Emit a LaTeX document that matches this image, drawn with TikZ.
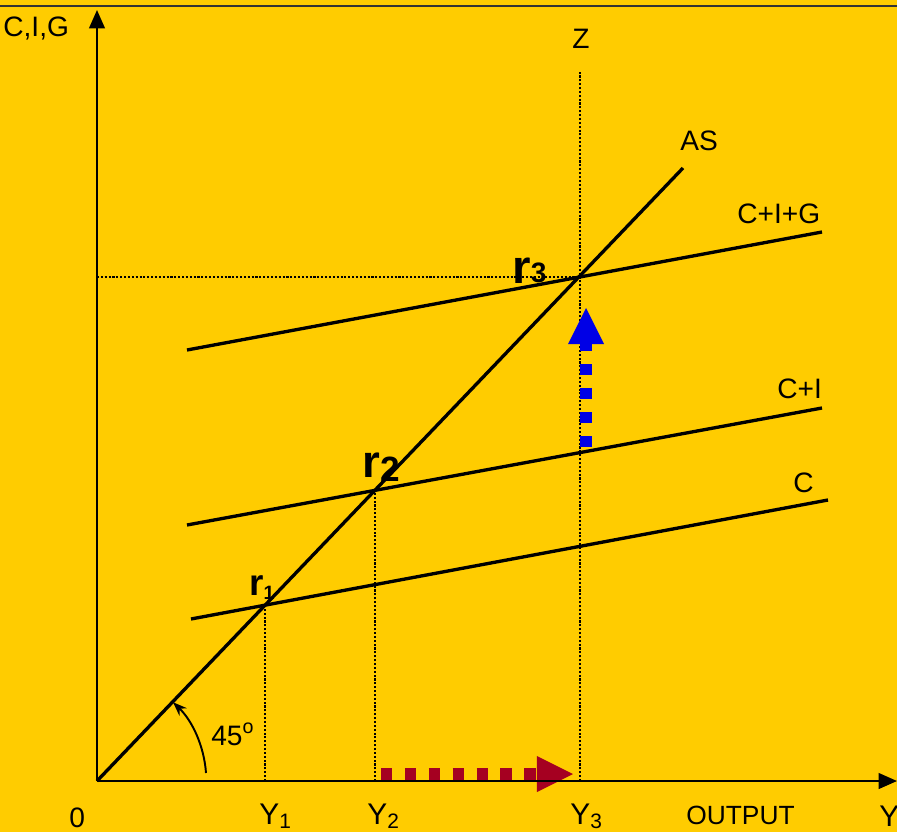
\documentclass[tikz,border=0pt]{standalone}
\usepackage{fontspec}
\setmainfont{Liberation Sans}
\usetikzlibrary{arrows.meta, positioning}
\definecolor{gold}{RGB}{255,204,0}
\definecolor{shiftblue}{RGB}{0,0,230}
\definecolor{shiftred}{RGB}{165,0,33}

\begin{document}
\begin{tikzpicture}[x=0.02cm, y=-0.02cm]
    \tikzstyle{curve} = [line width=1.9pt]
    \tikzstyle{axis} = [line width=1.1pt, -{Triangle[length=10.5pt, width=9pt]}]
    \tikzstyle{guide} = [line width=0.8pt, dash pattern=on 1.2pt off 1pt]
    \tikzstyle{lbl} = [inner sep=0pt, anchor=base west, font=\fontsize{16}{19}\selectfont]
    \tikzstyle{ylbl} = [inner sep=0pt, anchor=base west, font=\fontsize{17}{20}\selectfont]
    \tikzstyle{rlbl} = [inner sep=0pt, anchor=base west]
    \tikzstyle{shiftarrow} = [line width=6.8pt, dash pattern=on 6.4pt off 7.2pt, -{Triangle[length=20.5pt, width=20.5pt, line width=0pt]}]

    \fill[gold] (0,0) rectangle (897,832);
    \useasboundingbox (0,0) rectangle (897,832);
    \draw[black!80, line width=1.1pt] (0,6) -- (897,6);

    \coordinate (O) at (97,781);
    \coordinate (ytop) at (97,10);
    \coordinate (xend) at (897,781);
    \coordinate (as-end) at (683,168);
    \coordinate (c-l) at (191,619);
    \coordinate (c-r) at (828,500);
    \coordinate (ci-l) at (187,525);
    \coordinate (ci-r) at (822,408);
    \coordinate (cig-l) at (187,350);
    \coordinate (cig-r) at (822,232);
    \coordinate (e1) at (265,605);
    \coordinate (e2) at (375,491);
    \coordinate (e3) at (580,277);
    \coordinate (y1-foot) at (265,781);
    \coordinate (y2-foot) at (375,781);
    \coordinate (y3-foot) at (580,781);
    \coordinate (z-top) at (580,72);
    \coordinate (g-left) at (97,277);
    \coordinate (blue-start) at (586,447);
    \coordinate (blue-tip) at (586,308);
    \coordinate (red-start) at (381,774);
    \coordinate (red-tip) at (573,774);
    \coordinate (arc-start) at (206,773);

    \draw[guide] (y1-foot) -- (e1);
    \draw[guide] (y2-foot) -- (e2);
    \draw[guide] (y3-foot) -- (z-top);
    \draw[guide] (g-left) -- (e3);

    \draw[curve] (O) -- (as-end);
    \draw[curve] (c-l) -- (c-r);
    \draw[curve] (ci-l) -- (ci-r);
    \draw[curve] (cig-l) -- (cig-r);

    \draw[shiftarrow, shiftblue] (blue-start) -- (blue-tip);
    \draw[shiftarrow, shiftred] (red-start) -- (red-tip);

    \draw[axis] (O) -- (ytop);
    \draw[axis] (O) -- (xend);
    \draw[line width=1.1pt, -{Stealth[length=8pt, width=6pt]}] (arc-start) arc[start angle=-4, end angle=-46, radius=109];

    \node[lbl] (cig-axis) at (3,36) {C,I,G};
    \node[lbl] (zero) at (69,827) {0};
    \node[ylbl] (y1) at (259,824) {Y\textsubscript{1}};
    \node[ylbl] (y2) at (367,824) {Y\textsubscript{2}};
    \node[ylbl] (y3) at (570,824) {Y\textsubscript{3}};
    \node[lbl, font=\fontsize{15}{18}\selectfont] (output) at (686,824) {OUTPUT};
    \node[ylbl] (y-axis) at (879,826) {Y};
    \node[lbl] (angle) at (211,745) {45\textsuperscript{o}};
    \node[lbl] (z) at (572,48) {Z};
    \node[lbl] (as) at (680,150) {AS};
    \node[lbl] (cig) at (737,223) {C+I+G};
    \node[lbl] (ci) at (777,398) {C+I};
    \node[lbl] (c) at (793,492) {C};

    \node[rlbl, font=\bfseries\fontsize{21}{24}\selectfont] (r1) at (249,595) {r\raisebox{-2.3pt}{\fontsize{11}{13}\selectfont 1}};
    \node[rlbl, font=\bfseries\fontsize{26}{30}\selectfont] (r2) at (362,477) {r\raisebox{-2.8pt}{\fontsize{20}{24}\selectfont 2}};
    \node[rlbl, font=\bfseries\fontsize{27}{31}\selectfont] (r3) at (512,283) {r\raisebox{0.5pt}{\fontsize{16}{19}\selectfont 3}};
\end{tikzpicture}
\end{document}
